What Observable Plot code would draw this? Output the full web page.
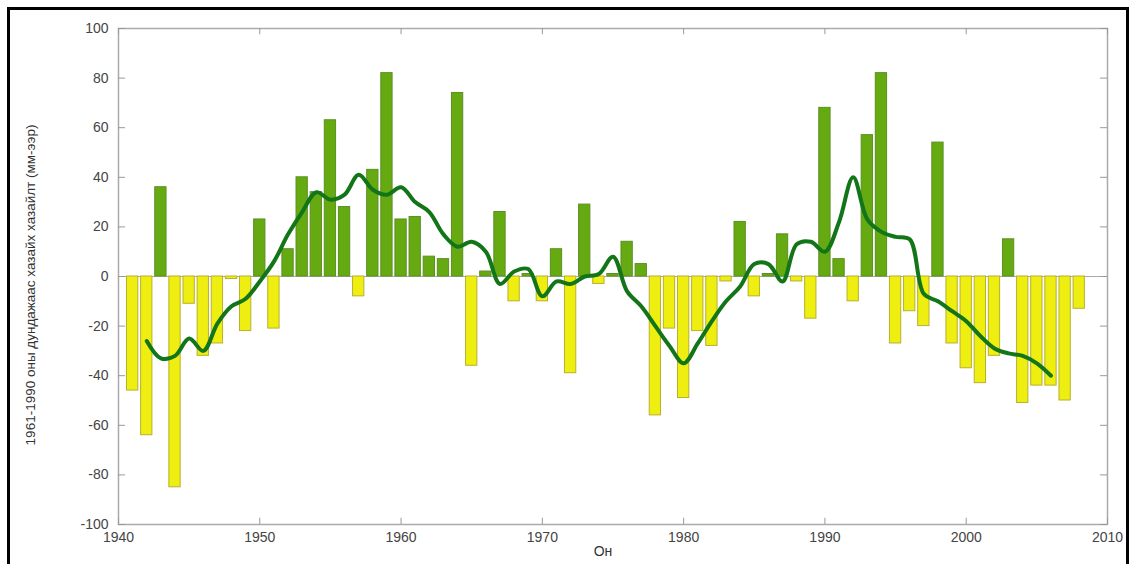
<!DOCTYPE html>
<html>
<head>
<meta charset="utf-8">
<script src="https://cdn.jsdelivr.net/npm/d3@7"></script>
<script src="https://cdn.jsdelivr.net/npm/@observablehq/plot@0.6"></script>
<style>
  html, body { margin: 0; padding: 0; background: #fff; }
  #wrap { position: relative; width: 1140px; height: 564px; overflow: hidden; background: #fff; }
  #frame { position: absolute; left: 7px; top: 7px; width: 1122px; height: 600px; border: 3px solid #000; box-sizing: border-box; pointer-events: none; }
  #chart { position: absolute; left: 0; top: 0; }
  #ylabel { position: absolute; left: 30px; top: 285px; transform: translate(-50%, -50%) rotate(-90deg); white-space: nowrap;
            font-family: "Liberation Sans", Arial, sans-serif; font-size: 13.5px; color: #333; }
  #xlabel { position: absolute; left: 603px; top: 543px; transform: translateX(-50%);
            font-family: "Liberation Sans", Arial, sans-serif; font-size: 14px; color: #333; }
</style>
</head>
<body>
<div id="wrap">
  <div id="chart"></div>
  <div id="ylabel">1961-1990 оны дундажаас хазайх хазайлт (мм-ээр)</div>
  <div id="xlabel">Он</div>
  <div id="frame"></div>
</div>
<script>
// Annual anomaly (mm) relative to 1961-1990 mean
const barYears = d3.range(1941, 2009);
const barValues = [
  -46, -64, 36, -85, -11, -32, -27, -1, -22, 23,   // 1941-1950
  -21, 11, 40, 34, 63, 28, -8, 43, 82, 23,          // 1951-1960
  24, 8, 7, 74, -36, 2, 26, -10, 1, -10,            // 1961-1970
  11, -39, 29, -3, 1, 14, 5, -56, -21, -49,         // 1971-1980
  -22, -28, -2, 22, -8, 1, 17, -2, -17, 68,         // 1981-1990
  7, -10, 57, 82, -27, -14, -20, 54, -27, -37,      // 1991-2000
  -43, -32, 15, -51, -44, -44, -50, -13             // 2001-2008
];

// Smoothed curve
const lineYears = d3.range(1942, 2007);
const lineValues = [
  -26, -33, -32, -25, -30, -19, -12, -9, -2,        // 1942-1950
  6, 17, 26, 34, 31, 33, 41, 35, 33, 36,            // 1951-1960
  30, 26, 17, 12, 14, 10, -3, 2, 3, -8,             // 1961-1970
  -2, -3, 0, 1, 8, -6, -12, -20, -28, -35,          // 1971-1980
  -27, -18, -10, -4, 5, 5, -2, 13, 14, 10,          // 1981-1990
  22, 40, 23, 18, 16, 15, -7, -10, -14, -18,        // 1991-2000
  -24, -29, -31, -32, -35, -40                      // 2001-2006
];

const xTicks = [1940, 1950, 1960, 1970, 1980, 1990, 2000, 2010];
const yTicks = [-100, -80, -60, -40, -20, 0, 20, 40, 60, 80, 100];

const bars = barYears.map((year, i) => ({year, value: barValues[i]}));
const curve = lineYears.map((year, i) => ({year, value: lineValues[i]}));
const half = 0.4;

const plot = Plot.plot({
  width: 1140,
  height: 564,
  marginLeft: 118,
  marginRight: 33,
  marginTop: 28,
  marginBottom: 40,
  style: {fontFamily: "Liberation Sans, Arial, sans-serif", fontSize: "14px", color: "#444", background: "transparent"},
  x: {domain: [1940, 2010]},
  y: {domain: [-100, 100]},
  marks: [
    Plot.ruleY([0], {stroke: "#aaa", strokeWidth: 1}),
    Plot.rectY(bars, {
      x1: d => d.year - half, x2: d => d.year + half, y1: 0, y2: "value",
      fill: d => d.value >= 0 ? "#66aa12" : "#eeee10",
      stroke: d => d.value >= 0 ? "#5c8f22" : "#b8b030",
      strokeWidth: 1
    }),
    Plot.line(curve, {x: "year", y: "value", stroke: "#127518", strokeWidth: 4, curve: "catmull-rom"}),
    Plot.frame({stroke: "#aaa", strokeWidth: 1.5}),
    // inward ticks
    Plot.ruleX(xTicks, {y1: -100, y2: -97.5, stroke: "#999"}),
    Plot.ruleX(xTicks, {y1: 100, y2: 97.5, stroke: "#999"}),
    Plot.ruleY(yTicks, {x1: 1940, x2: 1940.5, stroke: "#999"}),
    Plot.ruleY(yTicks, {x1: 2009.5, x2: 2010, stroke: "#999"}),
    Plot.axisX(xTicks, {tickSize: 0, tickPadding: 8, tickFormat: d => String(d), label: null, fill: "#444", fontSize: 14}),
    Plot.axisY(yTicks, {tickSize: 0, tickPadding: 10, tickFormat: d => String(d), label: null, fill: "#444", fontSize: 14})
  ]
});
document.getElementById("chart").appendChild(plot);
</script>
</body>
</html>
